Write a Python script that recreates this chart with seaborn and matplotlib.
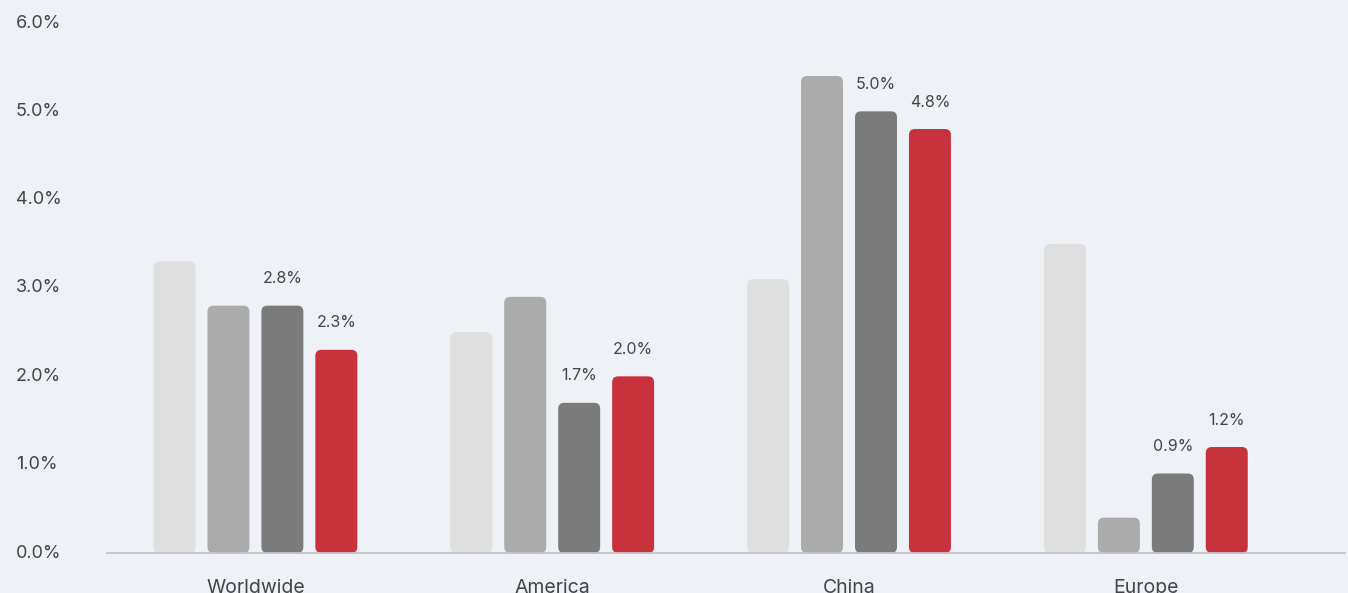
import numpy as np
import pandas as pd
import matplotlib
matplotlib.use("Agg")
import matplotlib.pyplot as plt
import matplotlib.transforms as mtransforms
import seaborn as sns
from matplotlib.patches import FancyBboxPatch

categories = ["Worldwide", "America", "China", "Europe"]
series = ["Series 1", "Series 2", "Series 3", "Series 4"]
values_s1 = [3.3, 2.5, 3.1, 3.5]
values_s2 = [2.8, 2.9, 5.4, 0.4]
values_s3 = [2.8, 1.7, 5.0, 0.9]
values_s4 = [2.3, 2.0, 4.8, 1.2]
colors = ["#dfdfdf", "#ababab", "#7b7b7b", "#c8323c"]
labelled_series = ["Series 3", "Series 4"]
yticks = [0, 1, 2, 3, 4, 5, 6]
ytick_labels = ["0.0%", "1.0%", "2.0%", "3.0%", "4.0%", "5.0%", "6.0%"]

bg = "#eef1f6"
text_color = "#444448"

rows = []
for s, vals in zip(series, [values_s1, values_s2, values_s3, values_s4]):
    for c, v in zip(categories, vals):
        rows.append({"category": c, "series": s, "value": v})
df = pd.DataFrame(rows)

sns.set_theme(style="white")
plt.rcParams["font.family"] = ["Inter", "DejaVu Sans"]

W, H = 1348, 593
fig = plt.figure(figsize=(W / 100, H / 100), dpi=100, facecolor=bg)
left_px, right_px, base_px, top_px = 107, 1345, 553, 23
ax = fig.add_axes([left_px / W, (H - base_px) / H, (right_px - left_px) / W, (base_px - top_px) / H])
ax.set_facecolor(bg)

sns.barplot(data=df, x="category", y="value", hue="series", order=categories,
            hue_order=series, palette=colors, width=0.727, gap=0.222,
            saturation=1, legend=False, ax=ax, errorbar=None)

xmin, xmax = -0.500, 3.671
ax.set_xlim(xmin, xmax)
ax.set_ylim(0, 6)

# rounded bars
xu_per_px = (xmax - xmin) / (right_px - left_px)
yu_per_px = 6 / (base_px - top_px)
aspect = yu_per_px / xu_per_px
r_px = 6
for cont in ax.containers:
    for p in cont.patches:
        x, y, w, h = p.get_x(), p.get_y(), p.get_width(), p.get_height()
        fb = FancyBboxPatch((x, y), w, h,
                            boxstyle=f"round,pad=0,rounding_size={r_px * xu_per_px}",
                            mutation_aspect=aspect, facecolor=p.get_facecolor(),
                            edgecolor="none", linewidth=0, zorder=2)
        ax.add_patch(fb)
        p.set_visible(False)

for s, cont in zip(series, ax.containers):
    if s in labelled_series:
        ax.bar_label(cont, fmt="{:.1f}%", padding=14, fontsize=11.5, color=text_color)

ax.set_yticks(yticks)
ax.set_yticklabels(ytick_labels)
ax.tick_params(axis="y", length=0, pad=(left_px - 16) * 0.72, labelsize=13, labelcolor=text_color)
up = mtransforms.ScaledTranslation(0, 2 / 100, fig.dpi_scale_trans)
for t in ax.get_yticklabels():
    t.set_ha("left")
    t.set_transform(t.get_transform() + up)
ax.tick_params(axis="x", length=0, pad=19, labelsize=14, labelcolor=text_color)
ax.set_xlabel("")
ax.set_ylabel("")
for s in ["top", "right", "left"]:
    ax.spines[s].set_visible(False)
ax.spines["bottom"].set_color("#c2c3c8")
ax.spines["bottom"].set_linewidth(1.3)

fig.savefig("out.png", dpi=100, facecolor=bg)
